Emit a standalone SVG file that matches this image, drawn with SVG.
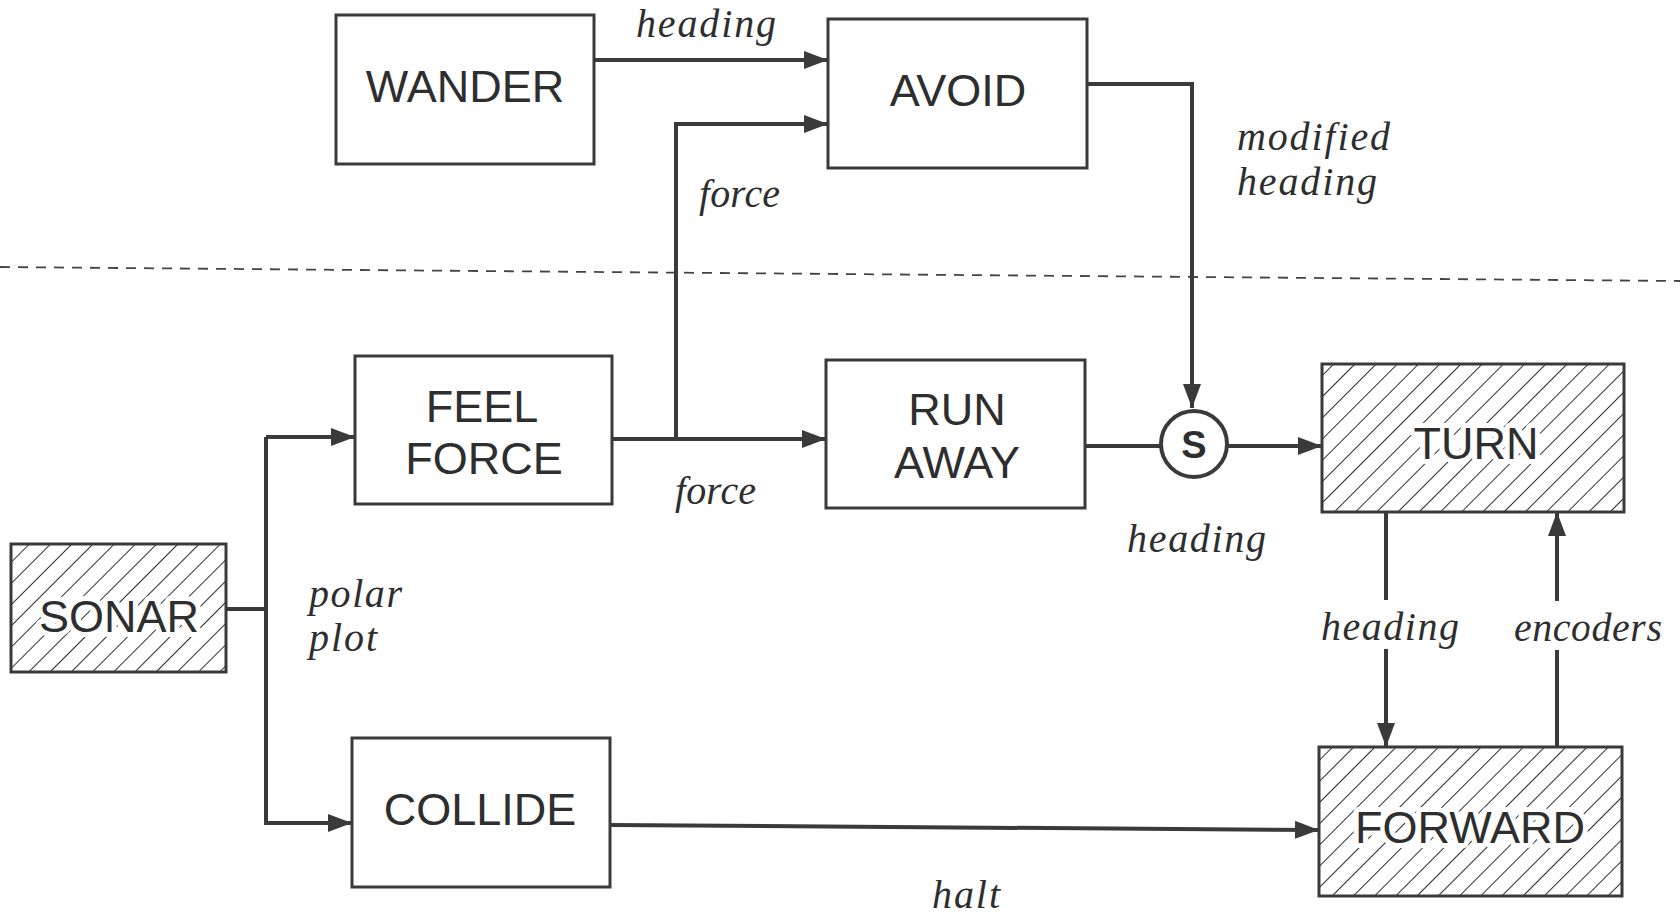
<svg xmlns="http://www.w3.org/2000/svg" width="1680" height="917" viewBox="0 0 1680 917">
<style>
.box{fill:#fff;stroke:#3a3a3a;stroke-width:3}
.hbox{fill:url(#hatch);stroke:#3a3a3a;stroke-width:3}
.lbl{font-family:"Liberation Sans",Arial,sans-serif;font-size:45px;fill:#2e2e2e;text-anchor:middle}
.hl{paint-order:stroke;stroke:#fff;stroke-width:10;stroke-linejoin:round}
.it{font-family:"Liberation Serif","Times New Roman",serif;font-style:italic;font-size:40px;fill:#2e2e2e;paint-order:stroke;stroke:#fff;stroke-width:8;stroke-linejoin:round}
.ln{fill:none;stroke:#3a3a3a;stroke-width:4}
.arr{fill:none;stroke:#3a3a3a;stroke-width:4;marker-end:url(#ah)}
</style>
<defs>
<pattern id="hatch" patternUnits="userSpaceOnUse" width="15" height="15" patternTransform="rotate(45)">
<rect width="15" height="15" fill="#fff"/>
<line x1="0" y1="0" x2="0" y2="15" stroke="#2e2e2e" stroke-width="2"/>
</pattern>
<marker id="ah" viewBox="0 0 24 18" refX="24" refY="9" markerWidth="24" markerHeight="18" markerUnits="userSpaceOnUse" orient="auto">
<path d="M0,0 L24,9 L0,18 Z" fill="#3a3a3a"/>
</marker>
</defs>
<rect width="1680" height="917" fill="#fff"/>
<line x1="0" y1="267" x2="1680" y2="281" stroke="#444" stroke-width="1.8" stroke-dasharray="10,8"/>
<g id="connectors">
<path class="arr" d="M594,60 L828,60"/>
<path class="arr" d="M676,439 L676,124 L828,124"/>
<path class="arr" d="M612,439 L826,439"/>
<path class="arr" d="M1087,84 L1192,84 L1192,408"/>
<path class="ln" d="M1085,446 L1161,446"/>
<path class="arr" d="M1227,446 L1322,446"/>
<path class="ln" d="M226,609 L266,609"/>
<path class="arr" d="M266,437 L266,823 L352,823"/>
<path class="arr" d="M266,437 L355,437"/>
<path class="arr" d="M610,825 L1319,830"/>
<path class="arr" d="M1386,512 L1386,747"/>
<path class="arr" d="M1557,747 L1557,512"/>
</g>
<g id="labels">
<rect x="1316" y="600" width="148" height="49" fill="#fff"/>
<rect x="1510" y="601" width="156" height="49" fill="#fff"/>
<text class="it" x="636" y="37" textLength="140">heading</text>
<text class="it" x="699" y="207" textLength="81">force</text>
<text class="it" x="1237" y="150" textLength="153">modified</text>
<text class="it" x="1237" y="195" textLength="140">heading</text>
<text class="it" x="675" y="504" textLength="81">force</text>
<text class="it" x="1127" y="552" textLength="139">heading</text>
<text class="it" x="309" y="607" textLength="93">polar</text>
<text class="it" x="309" y="651" textLength="68">plot</text>
<text class="it" x="1321" y="640" textLength="138">heading</text>
<text class="it" x="1514" y="641" textLength="148">encoders</text>
<text class="it" x="932" y="908" textLength="68">halt</text>
</g>
<g id="wander"><rect class="box" x="336" y="15" width="258" height="149"/><text class="lbl" x="465" y="102">WANDER</text></g>
<g id="avoid"><rect class="box" x="828" y="19" width="259" height="149"/><text class="lbl" x="958" y="106">AVOID</text></g>
<g id="feelforce"><rect class="box" x="355" y="356" width="257" height="148"/><text class="lbl" x="482" y="422">FEEL</text><text class="lbl" x="484" y="474">FORCE</text></g>
<g id="runaway"><rect class="box" x="826" y="360" width="259" height="148"/><text class="lbl" x="957" y="425">RUN</text><text class="lbl" x="957" y="478">AWAY</text></g>
<g id="s"><circle cx="1194" cy="444" r="33" fill="#fff" stroke="#3a3a3a" stroke-width="4"/><text x="1194" y="458" font-family="Liberation Sans,Arial,sans-serif" font-weight="bold" font-size="38" fill="#2e2e2e" text-anchor="middle">S</text></g>
<g id="turn"><rect class="hbox" x="1322" y="364" width="302" height="148"/><text class="lbl hl" x="1476" y="459">TURN</text></g>
<g id="sonar"><rect class="hbox" x="11" y="544" width="215" height="128"/><text class="lbl hl" x="119" y="632">SONAR</text></g>
<g id="collide"><rect class="box" x="352" y="738" width="258" height="149"/><text class="lbl" x="480" y="825">COLLIDE</text></g>
<g id="forward"><rect class="hbox" x="1319" y="747" width="303" height="149"/><text class="lbl hl" x="1470" y="843">FORWARD</text></g>
</svg>
